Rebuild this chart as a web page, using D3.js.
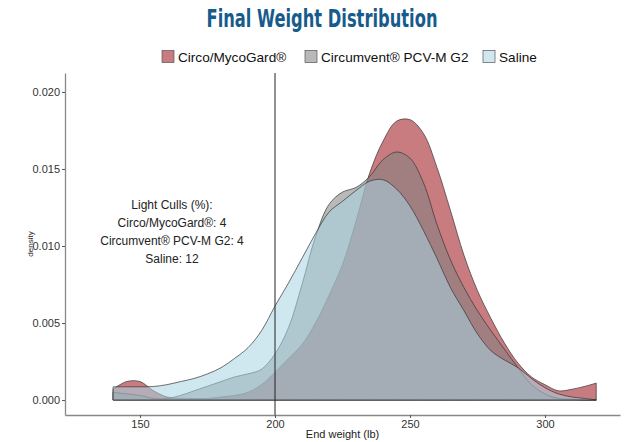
<!DOCTYPE html>
<html lang="en">
<head>
  <meta charset="UTF-8">
  <title>Final Weight Distribution</title>
<script src="https://d3js.org/d3.v7.min.js"></script>
<style>
  body { margin: 0; background: #fff; }
  text { font-family: "Liberation Sans", Arial, sans-serif; }
</style>
</head>
<body>
<div id="chart"></div>

  <script>

// end weight grid (lb) and density
const weights = [140, 145, 150, 155, 160, 165, 170, 175, 180, 185, 190, 195, 200, 205, 210, 215, 220, 225,
  230, 235, 240, 245, 250, 255, 260, 265, 270, 275, 280, 285, 290, 295, 300, 305, 310, 315, 319];

const circoDensity = [0.0007, 0.0012, 0.0012, 0.0006, 0.0002, 0.0001, 0.0001, 0.0001, 0.0002, 0.0003, 0.0005, 0.0010,
  0.0018, 0.0027, 0.0036, 0.0050, 0.0068, 0.0088, 0.0116, 0.0147, 0.0168, 0.0181, 0.0182, 0.0173, 0.0151, 0.0123,
  0.0094, 0.0071, 0.0053, 0.0037, 0.0024, 0.0015, 0.0010, 0.0006, 0.0007, 0.0009, 0.0011];

const circumventDensity = [0.0005, 0.0004, 0.0003, 0.0001, 0.0001, 0.0003, 0.0006, 0.0009, 0.0012, 0.0015, 0.0017, 0.0020,
  0.0030, 0.0047, 0.0075, 0.0106, 0.0127, 0.0135, 0.0138, 0.0145, 0.0156, 0.0161, 0.0157, 0.0141, 0.0114, 0.0091,
  0.0073, 0.0058, 0.0045, 0.0033, 0.0021, 0.0010, 0.0004, 0.0001, 0.00005, 0.0000, 0.0000];

const salineDensity = [0.00086, 0.00086, 0.00086, 0.00088, 0.0010, 0.0012, 0.0014, 0.0017, 0.0021, 0.0027, 0.0034, 0.0045,
  0.0061, 0.0076, 0.0092, 0.0108, 0.0122, 0.0129, 0.0136, 0.0142, 0.0143, 0.0137, 0.0126, 0.0110, 0.0092, 0.0073,
  0.0058, 0.0043, 0.0032, 0.0026, 0.0021, 0.0014, 0.0008, 0.0004, 0.0002, 0.0001, 0.0000];

const seriesNames = ['Circo/MycoGard®', 'Circumvent® PCV-M G2', 'Saline'];
const seriesColors = ['#9c1018', '#808080', '#a8d4e2'];

const xTicks = [150, 200, 250, 300];
const yTicks = [0, 0.005, 0.010, 0.015, 0.020];
const cutoffWeight = 200;
const cullLines = ['Light Culls (%):', 'Circo/MycoGard®: 4', 'Circumvent® PCV-M G2: 4', 'Saline: 12'];

const width = 629;
const height = 442;
const m = { left: 65, right: 620, top: 73, bottom: 415 };

const svg = d3.select('#chart')
  .append('svg')
  .attr('width', width)
  .attr('height', height);

const x = d3.scaleLinear().domain([122.2, 327.8]).range([m.left, m.right]);
const y = d3.scaleLinear().domain([-0.00097, 0.02123]).range([m.bottom, m.top]);

// title
svg.append('text')
  .attr('x', 322)
  .attr('y', 27)
  .attr('text-anchor', 'middle')
  .attr('textLength', 231)
  .attr('lengthAdjust', 'spacingAndGlyphs')
  .style('font-family', '"Liberation Sans Narrow", "DejaVu Sans Condensed", sans-serif')
  .style('font-size', '24px')
  .style('font-weight', 'bold')
  .attr('fill', '#175b8c')
  .text('Final Weight Distribution');

// legend
const legendX = [162, 305, 483];
const legend = svg.append('g');
seriesNames.forEach((name, i) => {
  legend.append('rect')
    .attr('x', legendX[i])
    .attr('y', 50.5)
    .attr('width', 12)
    .attr('height', 12)
    .attr('fill', seriesColors[i])
    .attr('fill-opacity', 0.55)
    .attr('stroke', '#555')
    .attr('stroke-width', 0.7);
  legend.append('text')
    .attr('x', legendX[i] + 16)
    .attr('y', 61.5)
    .style('font-size', '13.6px')
    .attr('fill', '#111')
    .text(name);
});

// densities
const series = [circoDensity, circumventDensity, salineDensity];
const area = d3.area()
  .x((d, i) => x(weights[i]))
  .y0(y(0))
  .y1(d => y(Math.max(0, d)))
  .curve(d3.curveCatmullRom.alpha(0.5));

svg.append('g')
  .selectAll('path')
  .data(series)
  .enter()
  .append('path')
  .attr('d', d => area(d) + 'Z')
  .attr('fill', (d, i) => seriesColors[i])
  .attr('fill-opacity', 0.55)
  .attr('stroke', '#333')
  .attr('stroke-width', 0.7);

// light cull cut-off
svg.append('line')
  .attr('x1', x(cutoffWeight))
  .attr('x2', x(cutoffWeight))
  .attr('y1', m.top)
  .attr('y2', m.bottom)
  .attr('stroke', '#222')
  .attr('stroke-width', 1);

// axes
const xAxis = svg.append('g')
  .attr('transform', `translate(0,${m.bottom})`)
  .call(d3.axisBottom(x).tickValues(xTicks).tickSize(3).tickPadding(2).tickSizeOuter(0));
const yAxis = svg.append('g')
  .attr('transform', `translate(${m.left},0)`)
  .call(d3.axisLeft(y).tickValues(yTicks).tickFormat(d3.format('.3f')).tickSize(3).tickPadding(2).tickSizeOuter(0));

[xAxis, yAxis].forEach(g => {
  g.select('.domain').attr('stroke', '#888').attr('stroke-width', 1.3);
  g.selectAll('.tick line').attr('stroke', '#555');
  g.selectAll('.tick text')
    .attr('fill', '#333')
    .style('font-family', '"Liberation Sans", Arial, sans-serif')
    .style('font-size', '11px');
});

svg.append('text')
  .attr('x', (m.left + m.right) / 2)
  .attr('y', 438)
  .attr('text-anchor', 'middle')
  .style('font-size', '11px')
  .attr('fill', '#222')
  .text('End weight (lb)');

svg.append('text')
  .attr('transform', `translate(33,${(m.top + m.bottom) / 2}) rotate(-90)`)
  .attr('text-anchor', 'middle')
  .style('font-size', '8px')
  .attr('fill', '#222')
  .text('density');

// annotation
svg.append('g')
  .selectAll('text')
  .data(cullLines)
  .enter()
  .append('text')
  .attr('x', 172)
  .attr('y', (d, i) => 209 + i * 18)
  .attr('text-anchor', 'middle')
  .style('font-size', '12px')
  .attr('fill', '#222')
  .text(d => d);

  </script>
</body>
</html>
